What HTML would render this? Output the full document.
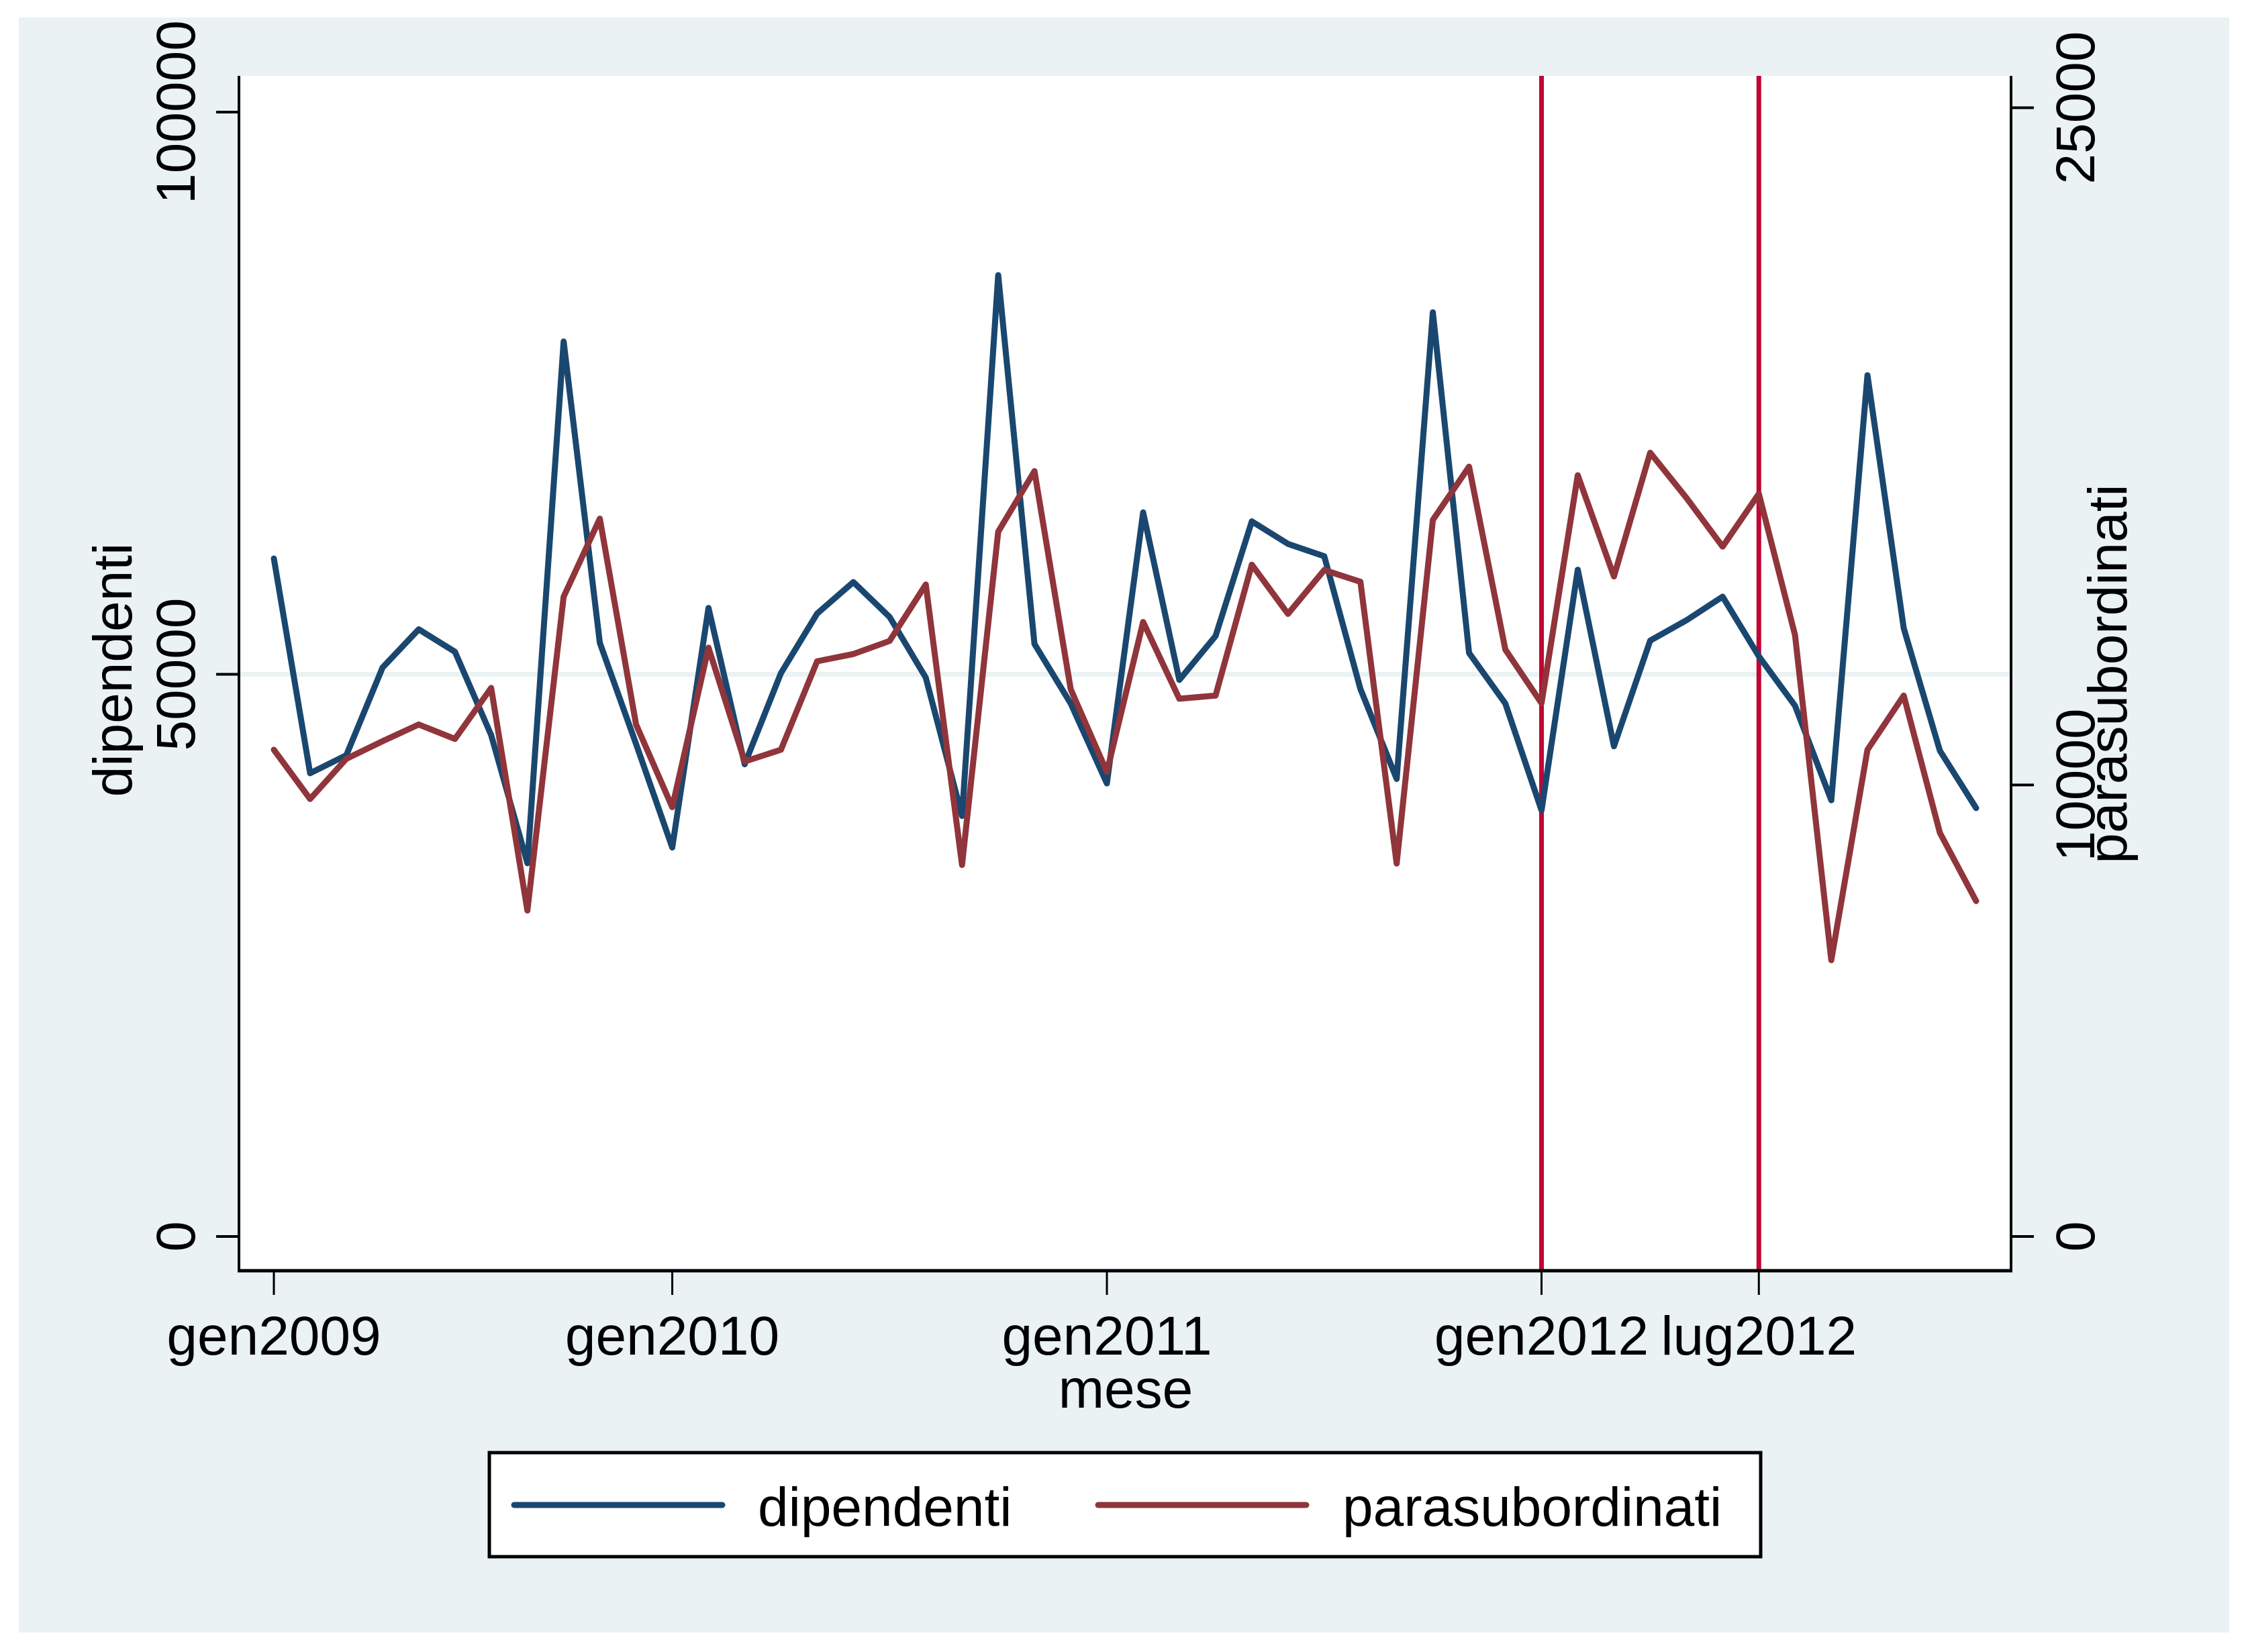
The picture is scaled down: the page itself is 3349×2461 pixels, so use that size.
<!DOCTYPE html>
<html><head><meta charset="utf-8"><style>
html,body{margin:0;padding:0;background:#fff;}
svg{display:block;font-family:"Liberation Sans",Arial,sans-serif;}
</style></head><body>
<svg id="chart" width="3349" height="2461" viewBox="0 0 3349 2461">
<rect x="28" y="26" width="3293" height="2406" fill="#eaf2f3"/>
<rect x="356" y="113" width="2640" height="1780" fill="#ffffff"/>
<g id="grid"></g>
<g id="vlines"></g>
<g id="series"></g>
<g id="axes"></g>
<text x="1677" y="2097" font-size="82" text-anchor="middle">mese</text>
<text transform="translate(196,998) rotate(-90)" font-size="82" text-anchor="middle">dipendenti</text>
<text transform="translate(3168,1004) rotate(-90)" font-size="82" text-anchor="middle">parasubordinati</text>
<g>
<rect x="729" y="2164" width="1894" height="155" fill="#fff" stroke="#000" stroke-width="5"/>
<line x1="766" y1="2242" x2="1076" y2="2242" stroke="#1a476f" stroke-width="9" stroke-linecap="round"/>
<text x="1129" y="2273" font-size="82">dipendenti</text>
<line x1="1636" y1="2242" x2="1946" y2="2242" stroke="#90353b" stroke-width="9" stroke-linecap="round"/>
<text x="2000" y="2273" font-size="82">parasubordinati</text>
</g>
</svg>
<script>
const dipendenti = [60300,41200,42800,50600,54000,52000,44600,33200,79600,52800,43800,34600,55900,42000,50100,55400,58200,55100,49700,37400,85500,52700,47400,40300,64400,49500,53400,63600,61600,60500,48700,40700,82200,51900,47400,37900,59300,43600,53000,54800,56900,51600,47200,38800,76600,54100,43200,38100];
const parasubordinati = [10780,9690,10580,10970,11340,11020,12150,7220,14170,15900,11340,9510,13040,10520,10780,12740,12900,13190,14440,8230,15610,16950,12120,10290,13610,11910,11980,14880,13790,14760,14500,8260,15870,17050,13000,11810,16860,14620,17360,16360,15280,16450,13320,6120,10780,11980,8940,7430];
const xTickIndex = [0,11,23,35,41];
const xTickLabels = ["gen2009","gen2010","gen2011","gen2012","lug2012"];
const leftTicks = [0,50000,100000];
const rightTicks = [0,10000,25000];
const refLineIndex = [35,41];

const NS="http://www.w3.org/2000/svg";
const X0=408, X1=2944, N=dipendenti.length;
const xs=i=>X0+i*(X1-X0)/(N-1);
const yL=v=>1842-v*(1842-1004.5)/50000;
const yR=v=>1842-v*(1842-1169.4)/10000;
function mk(tag,attrs,parent){const e=document.createElementNS(NS,tag);for(const k in attrs)e.setAttribute(k,attrs[k]);document.getElementById(parent).appendChild(e);return e;}

let g=mk('line',{x1:356,x2:2996,y1:yL(50000),y2:yL(50000),stroke:'#eaf2f3','stroke-width':7},'grid');



refLineIndex.forEach(i=>{
 const l=mk('line',{x1:xs(i),x2:xs(i),y1:113,y2:1893,stroke:'#c10534','stroke-width':7},'vlines');
 
 
});

const pd=dipendenti.map((v,i)=>xs(i).toFixed(1)+','+yL(v).toFixed(1)).join(' ');
const p1=mk('polyline',{points:pd,fill:'none',stroke:'#1a476f','stroke-width':9,'stroke-linejoin':'round','stroke-linecap':'round'},'series');


const pp=parasubordinati.map((v,i)=>xs(i).toFixed(1)+','+yR(v).toFixed(1)).join(' ');
const p2=mk('polyline',{points:pp,fill:'none',stroke:'#90353b','stroke-width':9,'stroke-linejoin':'round','stroke-linecap':'round'},'series');



// axes lines
let a=mk('line',{x1:356,x2:356,y1:113,y2:1895,stroke:'#000','stroke-width':4},'axes');


a=mk('line',{x1:2996,x2:2996,y1:113,y2:1895,stroke:'#000','stroke-width':4},'axes');


a=mk('line',{x1:354,x2:2998,y1:1893,y2:1893,stroke:'#000','stroke-width':5},'axes');



leftTicks.forEach(v=>{
 const t=mk('line',{x1:322,x2:356,y1:yL(v),y2:yL(v),stroke:'#000','stroke-width':4},'axes');
 
 
 const tx=mk('text',{transform:'translate(290,'+yL(v)+') rotate(-90)','font-size':82,'text-anchor':'middle'},'axes');
 tx.textContent=String(v);
 
 
});
rightTicks.forEach(v=>{
 const t=mk('line',{x1:2996,x2:3030,y1:yR(v),y2:yR(v),stroke:'#000','stroke-width':4},'axes');
 
 
 const tx=mk('text',{transform:'translate(3120,'+yR(v)+') rotate(-90)','font-size':82,'text-anchor':'middle'},'axes');
 tx.textContent=String(v);
 
 
});
xTickIndex.forEach((i,k)=>{
 const t=mk('line',{x1:xs(i),x2:xs(i),y1:1893,y2:1929,stroke:'#000','stroke-width':3},'axes');
 
 
 const tx=mk('text',{x:xs(i),y:2018,'font-size':82,'text-anchor':'middle'},'axes');
 tx.textContent=xTickLabels[k];
 
 
});
</script>
</body></html>
